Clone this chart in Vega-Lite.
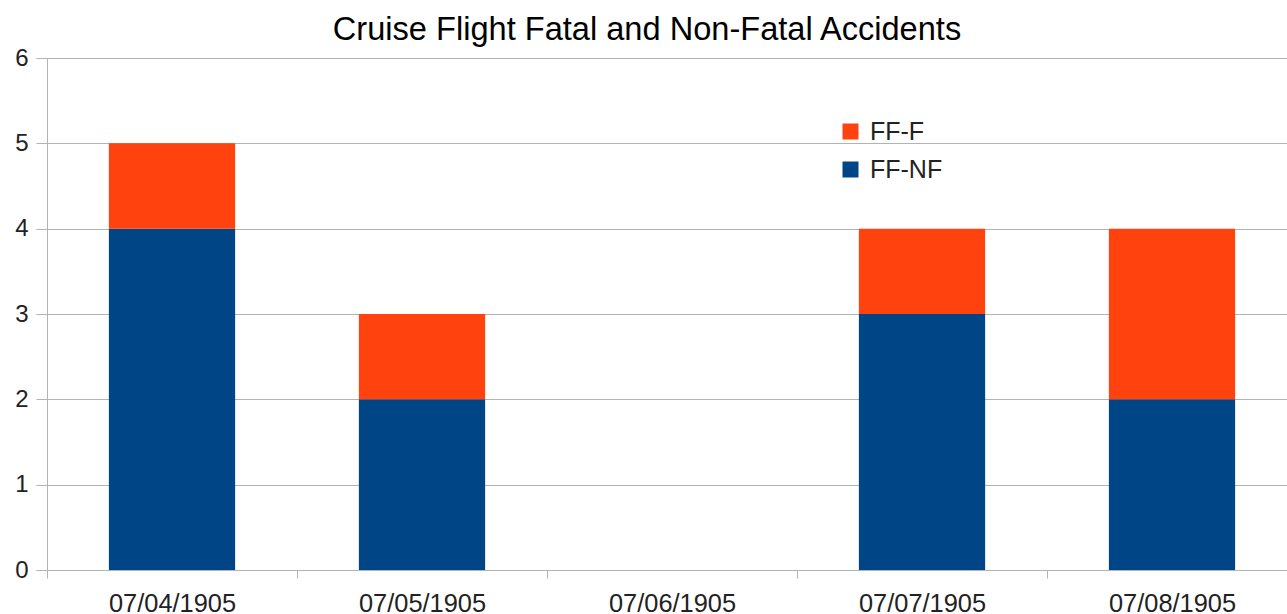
{
  "$schema": "https://vega.github.io/schema/vega-lite/v6.json",
  "width": 1250,
  "height": 512,
  "autosize": {"type": "none"},
  "padding": {"left": 47, "top": 58, "right": 0, "bottom": 44},
  "background": "white",
  "config": {"font": "Liberation Sans", "view": {"stroke": null}},
  "title": {
    "text": "Cruise Flight Fatal and Non-Fatal Accidents",
    "fontSize": 32.6,
    "font": "Liberation Sans",
    "fontWeight": "normal",
    "color": "#000000",
    "anchor": "middle",
    "dx": -25,
    "offset": -1
  },
  "data": {
    "values": [
      {"date": "07/04/1905", "series": "FF-NF", "rank": 1, "count": 4},
      {"date": "07/04/1905", "series": "FF-F", "rank": 2, "count": 1},
      {"date": "07/05/1905", "series": "FF-NF", "rank": 1, "count": 2},
      {"date": "07/05/1905", "series": "FF-F", "rank": 2, "count": 1},
      {"date": "07/06/1905", "series": "FF-NF", "rank": 1, "count": 0},
      {"date": "07/06/1905", "series": "FF-F", "rank": 2, "count": 0},
      {"date": "07/07/1905", "series": "FF-NF", "rank": 1, "count": 3},
      {"date": "07/07/1905", "series": "FF-F", "rank": 2, "count": 1},
      {"date": "07/08/1905", "series": "FF-NF", "rank": 1, "count": 2},
      {"date": "07/08/1905", "series": "FF-F", "rank": 2, "count": 2}
    ]
  },
  "mark": {"type": "bar", "width": {"band": 0.505}},
  "encoding": {
    "x": {
      "field": "date",
      "type": "nominal",
      "sort": null,
      "title": null,
      "scale": {"paddingInner": 0, "paddingOuter": 0},
      "axis": {
        "labelAngle": 0,
        "labelFontSize": 25.4,
        "labelColor": "#222222",
        "labelPadding": 13,
        "tickBand": "extent",
        "tickSize": 8,
        "tickColor": "#b3b3b3",
        "domainColor": "#b3b3b3",
        "grid": false
      }
    },
    "y": {
      "field": "count",
      "type": "quantitative",
      "stack": "zero",
      "title": null,
      "scale": {"domain": [0, 6], "nice": false},
      "axis": {
        "values": [0, 1, 2, 3, 4, 5, 6],
        "labelFontSize": 24,
        "labelColor": "#222222",
        "labelPadding": 8,
        "tickSize": 11,
        "tickColor": "#b3b3b3",
        "domainColor": "#b3b3b3",
        "gridColor": "#b3b3b3",
        "grid": true
      }
    },
    "color": {
      "field": "series",
      "type": "nominal",
      "scale": {"domain": ["FF-F", "FF-NF"], "range": ["#ff420e", "#004586"]},
      "legend": {
        "title": null,
        "orient": "none",
        "legendX": 791,
        "legendY": 61,
        "symbolType": "square",
        "symbolSize": 256,
        "symbolStrokeWidth": 0,
        "labelFontSize": 25,
        "labelColor": "#222222",
        "rowPadding": 12,
        "labelOffset": 7
      }
    },
    "order": {"field": "rank", "type": "quantitative"}
  }
}
